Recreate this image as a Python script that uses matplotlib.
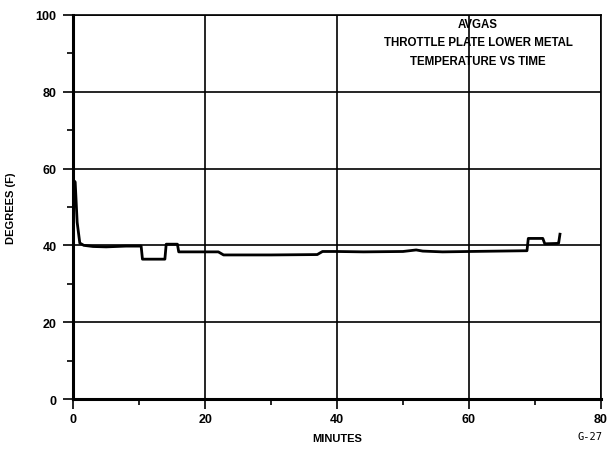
import matplotlib.pyplot as plt
import numpy as np

# values
minutes = [0, 0.3, 0.6, 1.0, 1.6, 3, 5, 8, 10.3, 10.5, 13.9, 14.1, 15.8, 16.0,
           22, 22.8, 30, 37, 37.8, 40, 44, 50, 52, 53, 56, 60, 68.8, 69.0,
           71.2, 71.5, 73.4, 73.6, 73.8]
degrees = [57, 56.5, 46, 40.6, 40.0, 39.7, 39.6, 39.8, 39.8, 36.4, 36.4, 40.3, 40.3, 38.3,
           38.3, 37.5, 37.5, 37.6, 38.4, 38.4, 38.3, 38.4, 38.8, 38.5, 38.3, 38.4, 38.6, 41.8,
           41.8, 40.4, 40.5, 40.6, 42.9]

title_lines = ["AVGAS", "THROTTLE PLATE LOWER METAL", "TEMPERATURE VS TIME"]
x_ticks = [0, 20, 40, 60, 80]
y_ticks = [0, 20, 40, 60, 80, 100]

plt.rcParams['font.family'] = ['Liberation Sans', 'DejaVu Sans']

fig = plt.figure(figsize=(6.1, 4.52), dpi=100)
ax = fig.add_axes([0.12, 0.115, 0.865, 0.85])

ax.plot(minutes, degrees, color='black', linewidth=2)

ax.set_xlim(0, 80)
ax.set_ylim(0, 100)
ax.set_xticks(x_ticks)
ax.set_yticks(y_ticks)
ax.set_xticks([10, 30, 50, 70], minor=True)
ax.set_yticks([10, 30, 50, 70, 90], minor=True)
ax.tick_params(which='major', length=7, width=1.2, direction='out',
               labelsize=9, pad=3)
ax.tick_params(axis='y', which='major', pad=5)
ax.tick_params(which='minor', length=4, width=1.2, direction='out')
for lab in ax.get_xticklabels() + ax.get_yticklabels():
    lab.set_fontweight('bold')

ax.grid(True, which='major', color='black', linewidth=1.2)
for side in ['top', 'right']:
    ax.spines[side].set_linewidth(1.2)
for side in ['left', 'bottom']:
    ax.spines[side].set_linewidth(2.2)

ax.set_xlabel('MINUTES', fontsize=8, fontweight='bold', labelpad=6)
ax.set_ylabel('DEGREES (F)', fontsize=8, fontweight='bold', labelpad=14)

for i, line in enumerate(title_lines):
    ax.text(61.4, 99.2 - i * 4.8, line, ha='center', va='top', fontsize=8.3,
            fontweight='bold')

fig.text(0.967, 0.033, 'G-27', ha='center', va='center', fontsize=7.5,
         family='DejaVu Sans Mono')

fig.savefig('out.png', dpi=100)
